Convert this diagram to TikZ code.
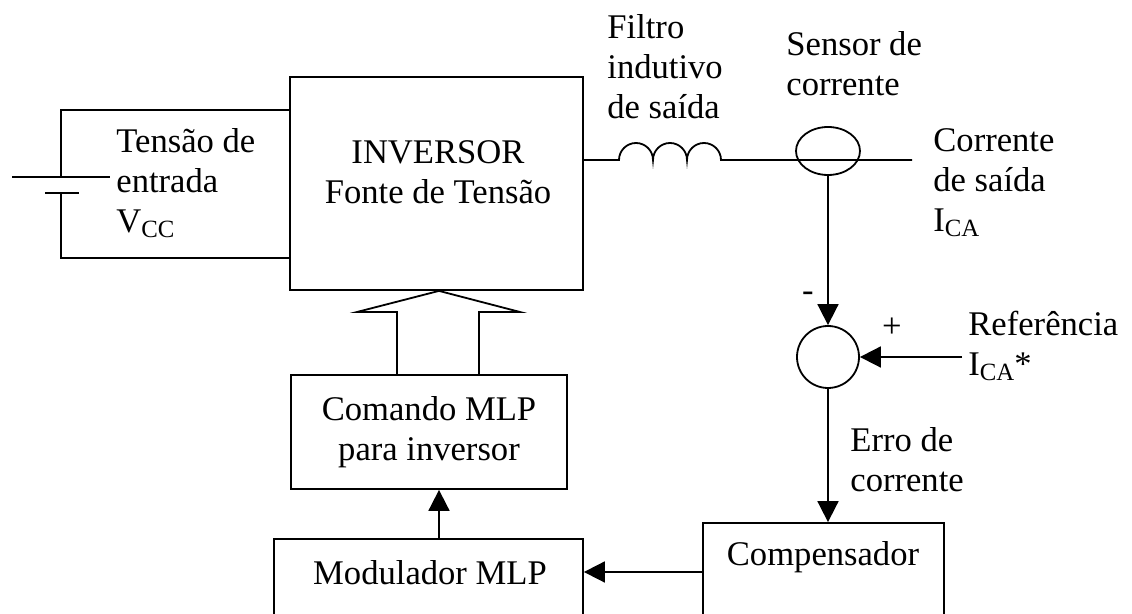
\documentclass[tikz,border=0pt]{standalone}
\usepackage{fontspec}
\setmainfont{Liberation Serif}
\usetikzlibrary{arrows.meta,shapes.geometric}
\newcommand{\lowsub}[1]{\raisebox{-2.5pt}{\fontsize{12.4pt}{12pt}\selectfont #1}}
\begin{document}
\begin{tikzpicture}[x=0.5pt,y=-0.5pt,
  wire/.style={line width=0.9pt},
  arr/.style={wire,-{Triangle[length=10.5pt,width=10.5pt]}},
  blk/.style={draw,line width=0.9pt,inner sep=0pt},
  txt/.style={font=\fontsize{17.3pt}{20pt}\selectfont,inner sep=0pt,align=left},
  ctxt/.style={txt,align=center}]
\useasboundingbox (0,0) rectangle (1132,614);
\clip (0,0) rectangle (1132,614);
% blocks
\node[blk,minimum width=146.5pt,minimum height=106.5pt] (inv) at (436.5,183.5) {};
\node[ctxt] (invt) at (438,172) {INVERSOR\\Fonte de Tensão};
\node[blk,ctxt,minimum width=138pt,minimum height=57pt] (cmd) at (429,432) {Comando MLP\\para inversor};
\node[blk,minimum width=154.5pt,minimum height=60pt] (mod) at (428.5,599) {};
\node[ctxt] (modt) at (430,573) {Modulador MLP};
\node[blk,minimum width=120.5pt,minimum height=60pt] (comp) at (823.5,583) {};
\node[ctxt] (compt) at (823,557) {Compensador};
\node[draw,wire,ellipse,minimum width=32pt,minimum height=24pt,inner sep=0pt] (sens) at (828,151) {};
\node[draw,wire,circle,minimum size=31pt,inner sep=0pt] (sum) at (828,357) {};
% labels
\node[txt,anchor=west] (vin) at (116,183) {Tensão de\\entrada\\V\lowsub{CC}};
\node[txt,anchor=west] (filt) at (607,67) {Filtro\\indutivo\\de saída};
\node[txt,anchor=west] (senst) at (786,64) {Sensor de\\corrente};
\node[txt,anchor=west] (iout) at (933,183) {Corrente\\de saída\\I\lowsub{CA}};
\node[txt] (minus) at (808,297) {-};
\node[txt] (plus) at (892,328) {+};
\node[txt,anchor=west] (ref) at (968,346) {Referência\\I\lowsub{CA}*};
\node[txt,anchor=west] (err) at (850,460) {Erro de\\corrente};
% coordinates
\coordinate (ytop) at (0,110);
\coordinate (ybot) at (0,258);
\coordinate (lw) at (619,160);
\coordinate (out) at (912,160);
\coordinate (refs) at (962,357);
\coordinate (ymod) at (0,572);
\coordinate (tipx) at (439,0);
\coordinate (sl) at (397,0);
\coordinate (sr) at (479,0);
\coordinate (hl) at (357,312);
\coordinate (hr) at (520,312);
% input circuit with battery
\draw[wire] (inv.west |- ytop) -- (61,110) -- (61,177);
\draw[wire] (12,177) -- (110,177);
\draw[wire] (45,193) -- (79,193);
\draw[wire] (61,193) -- (61,258) -- (inv.west |- ybot);
% output with inductor
\draw[wire] (inv.east |- lw) -- (lw)
  arc[start angle=180,end angle=0,radius=8.5pt]
  arc[start angle=180,end angle=0,radius=8.5pt]
  arc[start angle=180,end angle=0,radius=8.5pt] -- (out);
% feedback
\draw[arr] (sens.south) -- (sum.north);
\draw[arr] (refs) -- (sum.east);
\draw[arr] (sum.south) -- (sum.south |- comp.north);
\draw[arr] (comp.west |- ymod) -- (mod.east |- ymod);
\draw[arr] (mod.north -| tipx) -- (cmd.south -| tipx);
% hollow arrow
\draw[wire,line join=miter] (cmd.north -| sl) -- (sl |- hl) -- (hl) -- (inv.south -| tipx) -- (hr) -- (sr |- hr) -- (cmd.north -| sr);
\end{tikzpicture}
\end{document}
